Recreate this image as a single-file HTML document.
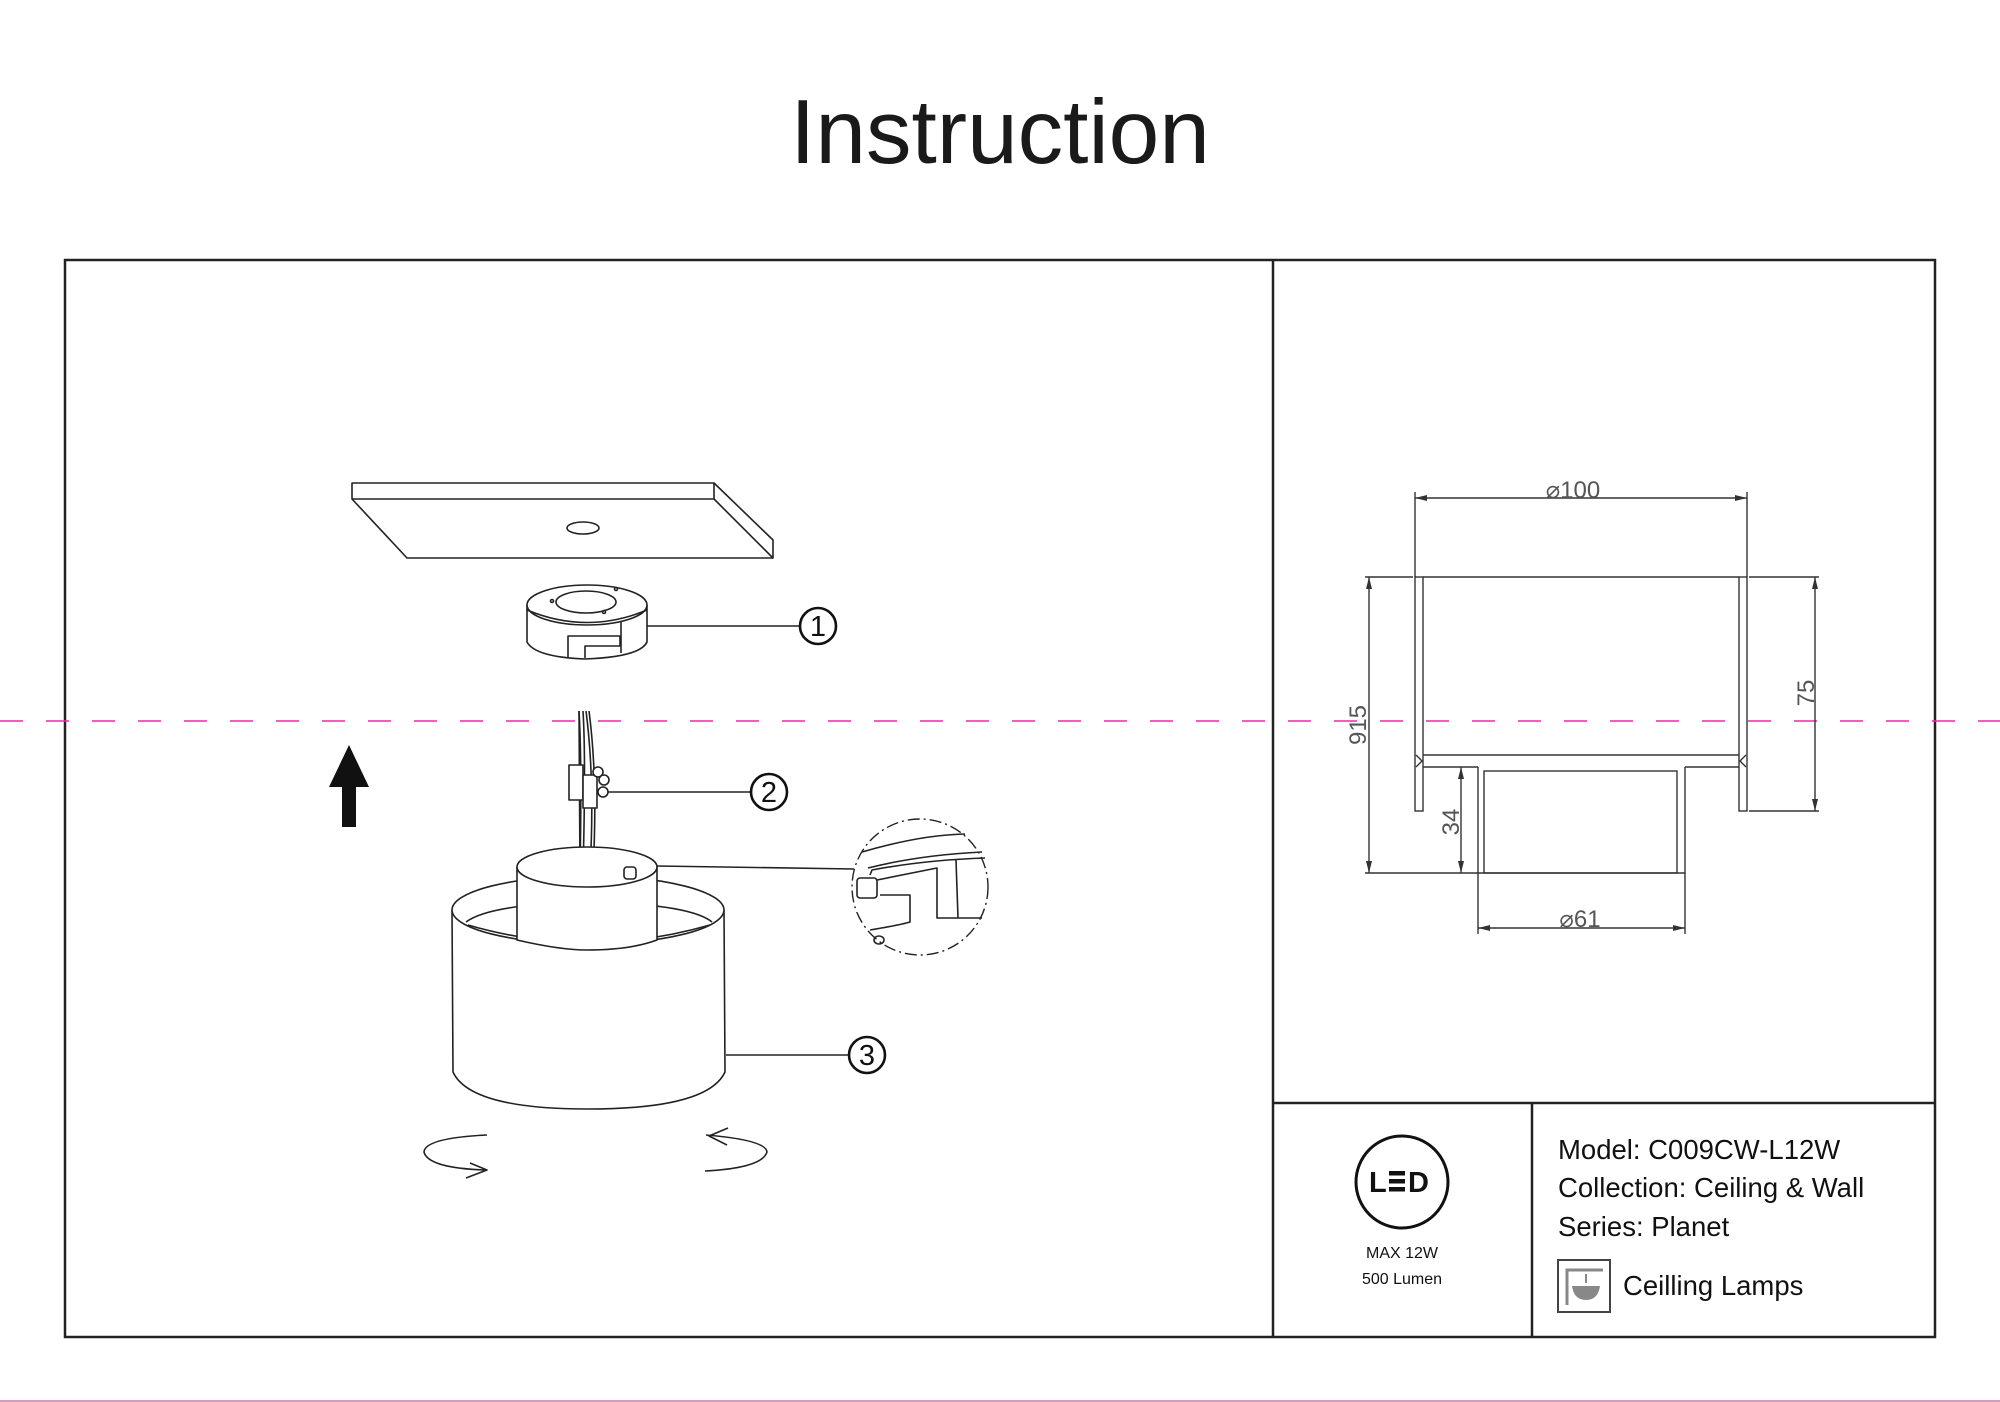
<!DOCTYPE html>
<html><head><meta charset="utf-8"><style>
html,body{margin:0;padding:0;background:#fff;}
svg{display:block;}
text{font-family:"Liberation Sans",Arial,sans-serif;}
</style></head><body>
<svg width="2000" height="1402" viewBox="0 0 2000 1402" xmlns="http://www.w3.org/2000/svg">
<rect width="2000" height="1402" fill="#fff"/>
<text x="1000" y="163" font-size="91" text-anchor="middle" fill="#1a1a1a">Instruction</text>

<g fill="none" stroke="#222" stroke-width="2.5">
<rect x="65" y="260" width="1870" height="1077"/>
<line x1="1273" y1="260" x2="1273" y2="1337"/>
<line x1="1273" y1="1103" x2="1935" y2="1103"/>
<line x1="1532" y1="1103" x2="1532" y2="1337"/>
</g>

<line x1="0" y1="721" x2="2000" y2="721" stroke="#ee2aa0" stroke-width="1.6" stroke-dasharray="23 23"/>
<line x1="0" y1="1401" x2="2000" y2="1401" stroke="#c87aa8" stroke-width="1.5"/>

<g fill="none" stroke="#222" stroke-width="1.6" stroke-linejoin="round">
<polygon points="352,483 714,483 773,540 773,558 407,558 352,499" fill="#fff"/>
<polyline points="352,499 714,499 773,558"/>
<line x1="714" y1="483" x2="714" y2="499"/>
<ellipse cx="583" cy="528" rx="16" ry="6"/>
<path d="M527,605 L527,642 Q535,657 585,659 Q640,657 647,642 L647,605" fill="#fff"/>
<ellipse cx="587" cy="605" rx="60" ry="20" fill="#fff"/>
<ellipse cx="586" cy="602" rx="30" ry="11"/>
<path d="M527,610 Q587,635 647,610"/>
<line x1="621" y1="621" x2="621" y2="653"/>
<path d="M568,657 L568,636 L620,636 L620,646 L585,646 L585,658"/>
<circle cx="552" cy="601" r="1.5"/><circle cx="616" cy="589" r="1.5"/><circle cx="604" cy="612" r="1.5"/>
<line x1="647" y1="626" x2="799" y2="626"/>
<line x1="579" y1="711" x2="580" y2="871"/>
<path d="M579,711 Q582,760 580,871 M583,711 Q586,760 583,871 M586,711 Q595,780 590,871 M589,711 Q598,780 593,871"/>
<rect x="569" y="765" width="14" height="35" fill="#fff"/>
<rect x="583" y="775" width="14" height="33" fill="#fff"/>
<circle cx="598" cy="772" r="5" fill="#fff"/><circle cx="604" cy="780" r="5" fill="#fff"/><circle cx="603" cy="792" r="5" fill="#fff"/>
<line x1="608" y1="792" x2="750" y2="792"/>
<path d="M452,910 L453,1072 Q470,1109 588,1109 Q708,1109 725,1072 L724,910" fill="#fff"/>
<ellipse cx="588" cy="910" rx="136" ry="34" fill="#fff"/>
<path d="M466,922 Q490,904 588,902 Q690,904 712,922"/>
<path d="M468,925 Q588,960 710,925"/>
<path d="M517,867 L517,940 Q560,950 587,950 Q630,950 657,940 L657,867" fill="#fff"/>
<ellipse cx="587" cy="867" rx="70" ry="20" fill="#fff"/>
<rect x="624" y="867" width="12" height="12" rx="3" fill="#fff"/>
<line x1="657" y1="866" x2="854" y2="869"/>
<circle cx="920" cy="887" r="68" stroke-dasharray="12 4 2 4" stroke-width="1.4"/>
<path d="M862,852 Q920,835 965,834 M868,868 Q920,855 982,852 M870,875 L872,870 Q925,860 985,858 M877,880 L937,868 L937,918 L982,918 M956,860 L958,918 M870,930 Q900,925 910,922 L910,895 L880,895"/>
<rect x="857" y="878" width="20" height="20" rx="3"/>
<ellipse cx="879" cy="940" rx="5" ry="4"/>
<line x1="726" y1="1055" x2="848" y2="1055"/>
<path d="M487,1135 Q425,1138 424,1152 Q428,1168 485,1170 M470,1163 L487,1170 L466,1178"/>
<path d="M706,1135 Q766,1140 767,1152 Q762,1168 705,1171 M728,1128 L709,1136 L727,1145"/>
</g>
<g fill="none" stroke="#111" stroke-width="2.6">
<circle cx="818" cy="626" r="18"/>
<circle cx="769" cy="792" r="18"/>
<circle cx="867" cy="1055" r="18"/>
</g>
<g font-family="Liberation Serif, serif" font-size="29" text-anchor="middle" fill="#111">
<text x="818" y="636">1</text>
<text x="769" y="802">2</text>
<text x="867" y="1065">3</text>
</g>
<polygon points="349,745 369,787 356,787 356,827 342,827 342,787 329,787" fill="#111"/>

<g fill="none" stroke="#333" stroke-width="1.4">
<rect x="1415" y="577" width="8" height="234"/>
<rect x="1739" y="577" width="8" height="234"/>
<line x1="1423" y1="577" x2="1739" y2="577"/>
<line x1="1423" y1="755" x2="1739" y2="755"/>
<line x1="1423" y1="767" x2="1478" y2="767"/>
<line x1="1685" y1="767" x2="1739" y2="767"/>
<polyline points="1478,767 1478,873 1685,873 1685,767"/>
<rect x="1484" y="771" width="193" height="102"/>
<path d="M1416,755 L1422,761 L1416,767 M1746,755 L1740,761 L1746,767"/>
<line x1="1415" y1="498" x2="1747" y2="498"/>
<line x1="1415" y1="492" x2="1415" y2="577"/>
<line x1="1747" y1="492" x2="1747" y2="577"/>
<line x1="1369" y1="577" x2="1369" y2="873"/>
<line x1="1365" y1="577" x2="1413" y2="577"/>
<line x1="1365" y1="873" x2="1478" y2="873"/>
<line x1="1815" y1="577" x2="1815" y2="811"/>
<line x1="1749" y1="577" x2="1819" y2="577"/>
<line x1="1749" y1="811" x2="1819" y2="811"/>
<line x1="1461" y1="767" x2="1461" y2="873"/>
<line x1="1478" y1="928" x2="1685" y2="928"/>
<line x1="1478" y1="873" x2="1478" y2="934"/>
<line x1="1685" y1="873" x2="1685" y2="934"/>
</g>
<g fill="#333">
<polygon points="1415,498 1427,495 1427,501"/><polygon points="1747,498 1735,495 1735,501"/>
<polygon points="1369,577 1366,589 1372,589"/><polygon points="1369,873 1366,861 1372,861"/>
<polygon points="1815,577 1812,589 1818,589"/><polygon points="1815,811 1812,799 1818,799"/>
<polygon points="1461,767 1458,779 1464,779"/><polygon points="1461,873 1458,861 1464,861"/>
<polygon points="1478,928 1490,925 1490,931"/><polygon points="1685,928 1673,925 1673,931"/>
</g>
<g font-size="24" fill="#555">
<text x="1573" y="498" text-anchor="middle">⌀100</text>
<text x="1580" y="927" text-anchor="middle">⌀61</text>
<text transform="translate(1366,725) rotate(-90)" text-anchor="middle">915</text>
<text transform="translate(1814,693) rotate(-90)" text-anchor="middle">75</text>
<text transform="translate(1459,822) rotate(-90)" text-anchor="middle">34</text>
</g>

<circle cx="1402" cy="1182" r="46" fill="none" stroke="#111" stroke-width="3"/>
<text x="1369" y="1192" font-size="29" font-weight="bold" fill="#111">L</text>
<g fill="#111"><rect x="1389" y="1171" width="16" height="4.5"/><rect x="1389" y="1179" width="16" height="4.5"/><rect x="1389" y="1187" width="16" height="4.5"/></g>
<text x="1408" y="1192" font-size="29" font-weight="bold" fill="#111">D</text>
<text x="1402" y="1258" font-size="16" text-anchor="middle" fill="#111">MAX 12W</text>
<text x="1402" y="1284" font-size="16" text-anchor="middle" fill="#111">500 Lumen</text>
<g font-size="27.5" fill="#111">
<text x="1558" y="1159">Model: C009CW-L12W</text>
<text x="1558" y="1197">Collection: Ceiling &amp; Wall</text>
<text x="1558" y="1236">Series: Planet</text>
<text x="1623" y="1295">Ceilling Lamps</text>
</g>
<rect x="1558" y="1260" width="52" height="52" fill="none" stroke="#444" stroke-width="2"/>
<path d="M1567,1305 L1567,1270 L1603,1270" fill="none" stroke="#888" stroke-width="3"/>
<path d="M1572,1286 L1600,1286 Q1598,1300 1586,1300 Q1574,1300 1572,1286 Z" fill="#888"/>
<line x1="1586" y1="1274" x2="1586" y2="1283" stroke="#888" stroke-width="2"/>
</svg>
</body></html>
